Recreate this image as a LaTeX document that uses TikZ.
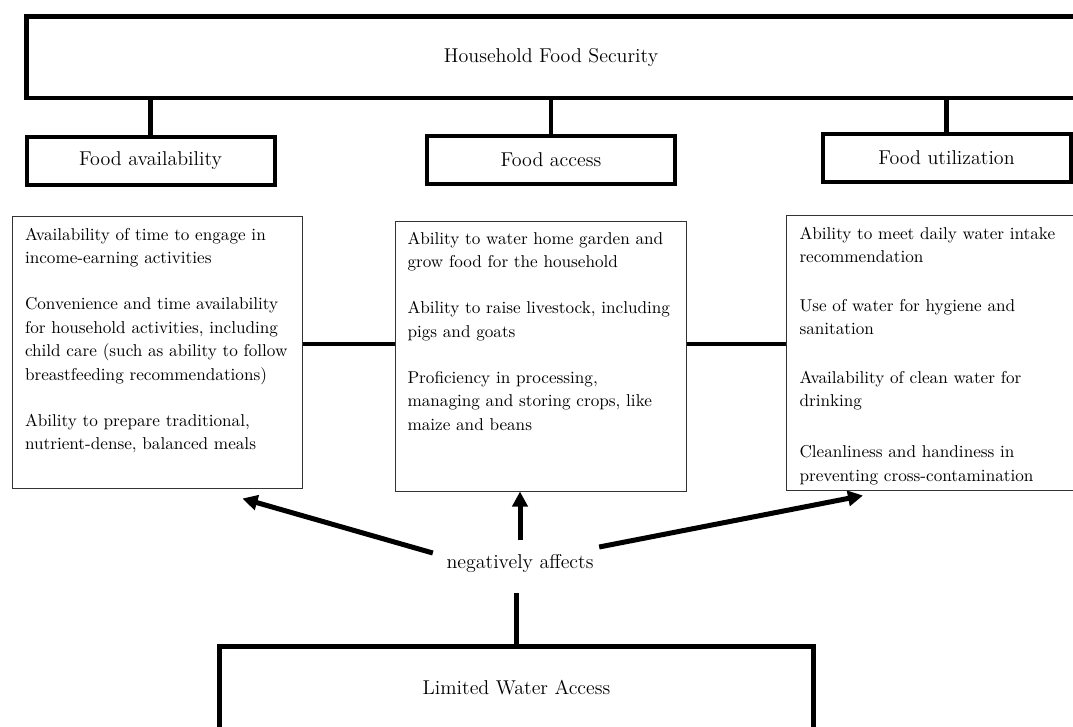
\documentclass[tikz,border=0pt]{standalone}
\usepackage{tikz}
\usetikzlibrary{arrows.meta,calc,positioning}

\begin{document}
\begin{tikzpicture}[x=0.6pt, y=-0.6pt,
		header/.style={draw, line width=2.4pt, minimum width=148.8pt, minimum height=28.8pt, inner sep=0pt, font=\fontsize{12}{14}\selectfont},
		bigbox/.style={draw, line width=2.7pt, inner sep=0pt, font=\fontsize{12}{14}\selectfont},
		listbox/.style={draw=black!80, line width=0.6pt, minimum width=174.4pt, inner sep=0pt},
		listtext/.style={anchor=north west, align=left, inner sep=0pt, font=\fontsize{10.3}{14.1}\selectfont},
		link/.style={line width=2.7pt},
		effect/.style={->, line width=3pt},
		>={Triangle[length=9pt,width=9pt]}
		]

		\fill[white] (0,0) rectangle (1073,726);
		\useasboundingbox (0,0) rectangle (1073,726);
		\clip (0,0) rectangle (1073,726);

		% --- top level and the three pillars ---
		\node[bigbox, minimum width=629.4pt, minimum height=48.9pt] (hfs) at (551,57) {Household Food Security};

		\node[header] (avail) at (150.5,160.5) {Food availability};
		\node[header] (access) at (551,159.5) {Food access};
		\node[header] (util) at (946.5,157.5) {Food utilization};

		\draw[link] (hfs.south -| avail) -- (avail.north);
		\draw[link] (hfs.south -| access) -- (access.north);
		\draw[link] (hfs.south -| util) -- (util.north);

		% --- lists under each pillar ---
		\node[listbox, minimum height=163.2pt] (availbox) at (157.5,352) {};
		\node[listbox, minimum height=162pt] (accessbox) at (541,356) {};
		\node[listbox, minimum height=165pt] (utilbox) at (932,352.5) {};

		\node[listtext] (availtext) at ($(availbox.north west)+(13,12)$) {Availability of time to engage in\\ income-earning activities\\[13.5pt]
			Convenience and time availability\\ for household activities, including\\ child care (such as ability to follow\\ breastfeeding recommendations)\\[13.5pt]
			Ability to prepare traditional,\\ nutrient-dense, balanced meals};
		\node[listtext] (accesstext) at ($(accessbox.north west)+(12,11)$) {Ability to water home garden and\\ grow food for the household\\[13.5pt]
			Ability to raise livestock, including\\ pigs and goats\\[13.5pt]
			Proficiency in processing,\\ managing and storing crops, like\\ maize and beans};
		\node[listtext] (utiltext) at ($(utilbox.north west)+(13,12)$) {Ability to meet daily water intake\\ recommendation\\[15pt]
			Use of water for hygiene and\\ sanitation\\[15pt]
			Availability of clean water for\\ drinking\\[16.5pt]
			Cleanliness and handiness in\\ preventing cross-contamination};

		\draw[link] ($(availbox.east)+(0,-8)$) -- ($(accessbox.west)+(0,-12)$);
		\draw[link] ($(accessbox.east)+(0,-12)$) -- ($(utilbox.west)+(0,-8.5)$);

		% --- limited water access ---
		\node[bigbox, line width=3pt, minimum width=356.4pt, minimum height=49.8pt] (water) at (516.5,688) {Limited Water Access};
		\node[inner xsep=2pt, inner ysep=8pt, font=\fontsize{12}{14}\selectfont] (neg) at (520,563) {negatively affects};

		\draw[link, line width=3pt, shorten >=4.5pt] (water.north) -- (water.north |- neg.south);
		\draw[effect] ($(neg.west)+(-10,-10)$) -- ($(availbox.south)+(85,10)$);
		\draw[effect] (neg.north) -- (neg.north |- accessbox.south);
		\draw[effect] ($(neg.east)+(2,-16)$) -- ($(utilbox.south)+(-69,5)$);

	\end{tikzpicture}
\end{document}
